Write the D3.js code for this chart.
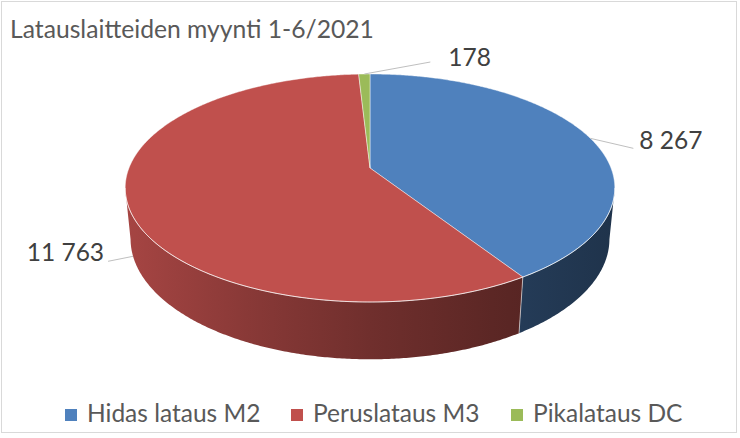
<!DOCTYPE html>
<html>
<head>
<meta charset="utf-8">
<script src="https://cdn.jsdelivr.net/npm/d3@7"></script>
<style>
  html, body { margin: 0; padding: 0; background: #fff; }
  svg { display: block; font-family: Lato, "Noto Sans", sans-serif; }
</style>
</head>
<body>
<div id="chart"></div>
<script>
// chart data
const title = 'Latauslaitteiden myynti 1-6/2021';
const categories = ['Hidas lataus M2', 'Peruslataus M3', 'Pikalataus DC'];
const values = [8267, 11763, 178];

const width = 740;
const height = 438;

const color = d3.scaleOrdinal()
    .domain(categories)
    .range(['#4F81BD', '#C0504D', '#9BBB59']);

const fmt = d3.formatLocale({ decimal: ',', thousands: '\u00a0', grouping: [3], currency: ['', ''] }).format(',d');

// 3d projection of the pie disc (tilted circle seen in perspective)
const cx = 370, apexY = 168;
const W = 241;          // half width of the top disc in px
const t = 0.1754;       // perspective strength
const sinP = 0.4585;    // tilt
const cosP = Math.sqrt(1 - sinP * sinP);
const r = t / cosP;
const k = W / r;
const h = 0.24 * r;     // thickness

function proj(a, z) {
    const px = r * Math.sin(a), py = -h * z, pz = -r * Math.cos(a);
    const depth = 1 - py * sinP - pz * cosP;
    const yc = py * cosP - pz * sinP;
    return [cx + k * px / depth, apexY - k * yc / depth];
}

const aL = Math.acos(-t);          // left / right silhouette angles
const aR = 2 * Math.PI - aL;

function arcPoints(a0, a1, z) {
    const n = Math.max(2, Math.ceil(Math.abs(a1 - a0) / (Math.PI / 360)));
    return d3.range(n + 1).map((i) => proj(a0 + (a1 - a0) * i / n, z));
}

const pie = d3.pie().sort(null).value((d) => d.value);
const arcs = pie(categories.map((c, i) => ({ name: c, value: values[i] })));

const line = d3.line();

const svg = d3.select('#chart')
    .append('svg')
    .attr('width', width)
    .attr('height', height)
    .attr('viewBox', `0 0 ${width} ${height}`);

svg.append('rect')
    .attr('x', 1.5).attr('y', 1.5)
    .attr('width', 735).attr('height', 431)
    .attr('fill', '#fff')
    .attr('stroke', '#D9D9D9');

// gradients for the side walls (light at left, dark at right)
const defs = svg.append('defs');
const xL = proj(aL, 0)[0], xR = proj(aR, 0)[0];
arcs.forEach((d, i) => {
    const g = defs.append('linearGradient')
        .attr('id', 'side' + i)
        .attr('gradientUnits', 'userSpaceOnUse')
        .attr('x1', xR).attr('x2', xL)
        .attr('y1', 0).attr('y2', 0);
    [0, 0.25, 0.5, 0.75, 1].forEach((o) => {
        g.append('stop')
            .attr('offset', o)
            .attr('stop-color', d3.color(color(d.data.name)).darker(0.4 + 2.2 * o));
    });
});

// side walls, front part only
const sides = svg.append('g').attr('class', 'sides');
arcs.forEach((d, i) => {
    const lo = Math.max(d.startAngle, aL);
    const hi = Math.min(d.endAngle, aR);
    if (hi <= lo) return;
    const pts = arcPoints(lo, hi, 0).concat(arcPoints(hi, lo, 1));
    sides.append('path')
        .attr('d', line(pts) + 'Z')
        .attr('fill', `url(#side${i})`);
});
arcs.forEach((d) => {
    const a = d.startAngle;
    if (a > aL && a < aR) {
        sides.append('line')
            .attr('x1', proj(a, 0)[0]).attr('y1', proj(a, 0)[1])
            .attr('x2', proj(a, 1)[0]).attr('y2', proj(a, 1)[1])
            .attr('stroke', '#E6E6E6')
            .attr('stroke-opacity', 0.8)
            .attr('stroke-width', 0.8);
    }
});

// top surface
const tops = svg.append('g').attr('class', 'tops');
arcs.forEach((d) => {
    const pts = [[cx, apexY]].concat(arcPoints(d.startAngle, d.endAngle, 0));
    tops.append('path')
        .attr('d', line(pts) + 'Z')
        .attr('fill', color(d.data.name))
        .attr('stroke', '#fff')
        .attr('stroke-opacity', 0.55)
        .attr('stroke-width', 0.8)
        .attr('stroke-linejoin', 'round');
});
tops.append('path')
    .attr('d', line(arcPoints(aL, aR, 0)))
    .attr('fill', 'none')
    .attr('stroke', '#fff')
    .attr('stroke-opacity', 0.6)
    .attr('stroke-width', 1);

// data labels with leader lines
const leader = [[43, 10], [-25, 5], [66, -12]];
const textGap = [[6, 1], [-4, 0], [18, 4]];
const labels = svg.append('g').attr('class', 'labels');
arcs.forEach((d, i) => {
    const mid = (d.startAngle + d.endAngle) / 2;
    const front = mid > aL && mid < aR;
    const p0 = proj(mid, front ? 1 : 0);
    const p1 = [p0[0] + leader[i][0], p0[1] + leader[i][1]];
    labels.append('line')
        .attr('x1', p0[0]).attr('y1', p0[1])
        .attr('x2', p1[0]).attr('y2', p1[1])
        .attr('stroke', '#BFBFBF')
        .attr('stroke-width', 1);
    labels.append('text')
        .attr('x', p1[0] + textGap[i][0])
        .attr('y', p1[1] + textGap[i][1])
        .attr('text-anchor', leader[i][0] < 0 ? 'end' : 'start')
        .attr('fill', '#404040')
        .attr('font-size', 24.5)
        .text(fmt(d.data.value));
});

// title
svg.append('text')
    .attr('x', 10)
    .attr('y', 38)
    .attr('fill', '#595959')
    .attr('font-size', 24.7)
    .text(title);

// legend
const legendX = [65, 291, 511];
const legend = svg.append('g').attr('class', 'legend');
categories.forEach((c, i) => {
    const g = legend.append('g').attr('transform', `translate(${legendX[i]}, 409)`);
    g.append('rect')
        .attr('width', 12).attr('height', 12)
        .attr('fill', color(c));
    g.append('text')
        .attr('x', 22)
        .attr('y', 13)
        .attr('fill', '#595959')
        .attr('font-size', 24.5)
        .text(c);
});
</script>
</body>
</html>
